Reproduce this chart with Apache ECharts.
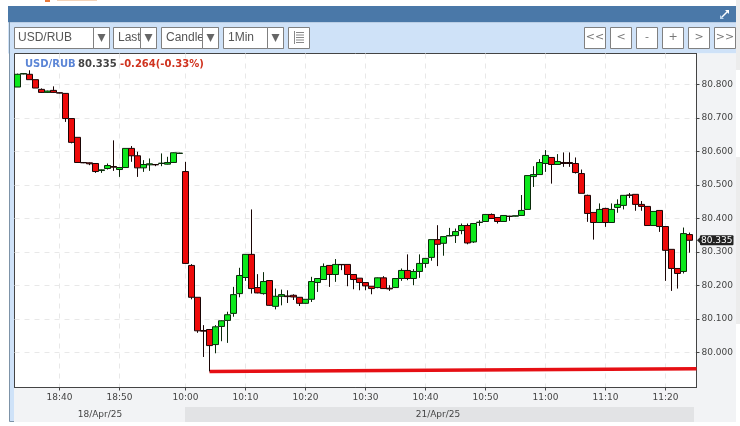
<!DOCTYPE html>
<html><head><meta charset="utf-8">
<style>html,body{margin:0;padding:0;background:#fff;overflow:hidden}#c{width:740px;height:426px}</style>
<script src="https://cdn.jsdelivr.net/npm/echarts@6/dist/echarts.min.js"></script>
</head><body><div id="c"></div>
<script>
const opens=[80.792,80.831,80.830,80.814,80.785,80.776,80.782,80.775,80.773,80.698,80.642,80.567,80.566,80.564,80.543,80.549,80.555,80.546,80.552,80.609,80.587,80.551,80.560,80.561,80.564,80.562,80.567,80.594,
80.540,80.260,80.165,80.066,80.069,80.024,80.078,80.096,80.117,80.176,80.224,80.293,80.194,80.176,80.215,80.138,80.168,80.169,80.171,80.165,80.147,80.159,80.209,80.218,80.260,80.233,80.263,80.263,80.233,80.222,80.209,80.198,80.194,80.223,80.192,80.194,80.221,80.245,80.221,80.242,80.266,80.284,80.337,80.326,80.348,80.349,80.364,80.379,80.330,80.388,80.391,80.412,80.403,80.391,80.407,80.407,80.409,80.427,80.525,80.531,80.564,80.582,80.561,80.567,80.567,80.564,80.534,80.469,80.418,80.388,80.430,80.388,80.433,80.439,80.470,80.472,80.442,80.436,80.379,80.424,80.376,80.308,80.251,80.242,80.352];
const closes=[80.830,80.832,80.814,80.789,80.776,80.780,80.776,80.774,80.698,80.627,80.567,80.566,80.563,80.540,80.545,80.558,80.553,80.552,80.609,80.587,80.551,80.561,80.563,80.560,80.565,80.567,80.596,80.595,
80.266,80.165,80.065,80.064,80.021,80.077,80.095,80.113,80.173,80.230,80.293,80.191,80.178,80.212,80.141,80.168,80.173,80.167,80.166,80.147,80.159,80.212,80.221,80.257,80.233,80.263,80.262,80.233,80.218,80.209,80.199,80.191,80.223,80.191,80.190,80.221,80.245,80.221,80.242,80.266,80.281,80.337,80.323,80.346,80.349,80.361,80.379,80.327,80.385,80.389,80.412,80.400,80.391,80.409,80.406,80.408,80.424,80.528,80.531,80.567,80.588,80.561,80.570,80.564,80.564,80.537,80.475,80.415,80.388,80.427,80.388,80.427,80.442,80.469,80.469,80.442,80.436,80.379,80.421,80.376,80.305,80.251,80.236,80.355,80.335];
const lows=[80.792,80.830,80.814,80.789,80.775,80.775,80.775,80.773,80.688,80.624,80.567,80.565,80.559,80.536,80.536,80.546,80.542,80.524,80.552,80.569,80.524,80.539,80.542,80.556,80.556,80.561,80.566,80.593,
80.266,80.159,80.059,79.987,79.944,79.998,80.034,80.029,80.107,80.165,80.214,80.176,80.177,80.173,80.140,80.129,80.141,80.148,80.157,80.139,80.146,80.151,80.181,80.218,80.196,80.211,80.246,80.198,80.189,80.186,80.186,80.174,80.192,80.190,80.184,80.193,80.214,80.216,80.201,80.223,80.253,80.274,80.258,80.289,80.347,80.327,80.353,80.323,80.327,80.378,80.391,80.400,80.385,80.391,80.393,80.406,80.409,80.427,80.494,80.531,80.539,80.504,80.560,80.554,80.554,80.534,80.475,80.390,80.337,80.388,80.375,80.388,80.417,80.427,80.461,80.423,80.423,80.379,80.379,80.360,80.214,80.184,80.191,80.236,80.298];
const highs=[80.832,80.833,80.842,80.814,80.788,80.781,80.794,80.776,80.774,80.698,80.642,80.568,80.567,80.565,80.546,80.564,80.633,80.553,80.609,80.616,80.599,80.574,80.579,80.562,80.594,80.584,80.597,80.596,
80.569,80.264,80.165,80.082,80.070,80.082,80.096,80.122,80.196,80.253,80.293,80.427,80.234,80.240,80.216,80.191,80.188,80.186,80.174,80.165,80.159,80.226,80.221,80.266,80.260,80.279,80.264,80.263,80.233,80.222,80.209,80.198,80.224,80.228,80.201,80.221,80.251,80.293,80.249,80.293,80.281,80.337,80.380,80.346,80.372,80.370,80.385,80.385,80.386,80.395,80.412,80.415,80.403,80.409,80.408,80.408,80.470,80.528,80.556,80.577,80.604,80.582,80.592,80.597,80.597,80.582,80.546,80.471,80.418,80.445,80.432,80.445,80.457,80.469,80.476,80.472,80.452,80.437,80.421,80.424,80.376,80.308,80.251,80.373,80.358];
const xTickIndex=[7,17,28,38,48,58,68,78,88,98,108];
const xTickLabels=['18:40','18:50','10:00','10:10','10:20','10:30','10:40','10:50','11:00','11:10','11:20'];
const yTicks=[80.0,80.1,80.2,80.3,80.4,80.5,80.6,80.7,80.8];
const trendX=[32,113.17];
const trendY=[79.944,79.952];
const lastPrice=80.335;
const headerParts=['USD/RUB','80.335','-0.264(-0.33%)'];
const dates=['18/Apr/25','21/Apr/25'];

const chart=echarts.init(document.getElementById('c'),null,{renderer:'canvas'});
const xMin=-0.5,xMax=113.17;
const GR='#808080';
function rect(x,y,w,h,fill,stroke,z){return {type:'rect',z:z==null?-1:z,silent:true,shape:{x,y,width:w,height:h},style:{fill:fill,stroke:stroke||null,lineWidth:stroke?1:0}};}
function txt(x,y,t,font,fill,align){return {type:'text',z:5,silent:true,x,y,style:{text:t,font:font,fill:fill,textAlign:align||'left',textVerticalAlign:'middle'}};}
function tri(cx,cy){return {type:'polygon',z:8,silent:true,shape:{points:[[cx-4,cy-4],[cx+4,cy-4],[cx,cy+4]]},style:{fill:'#666'}};}
function line(x1,y1,x2,y2,c,w,z){return {type:'line',z:z||5,silent:true,shape:{x1,y1,x2,y2},style:{stroke:c,lineWidth:w||1}};}
const g=[];
g.push(rect(45,0,5,2,'#e8793a'));g.push(rect(57,0,40,1,'#f3d3b8'));
g.push(rect(736,0,4,70,'#ececec'));g.push(rect(736,157,4,167,'#ececec'));
g.push(rect(8,6,728,16.5,'#4a78a8'));
g.push(rect(8,22.5,728,31,'#cfe2f8'));
g.push(rect(9,53,5,368,'#cfe2f8'));
g.push(line(9.5,22,9.5,421.5,'#7d93a8'));
g.push(line(9.5,421.5,14,421.5,'#7d93a8'));
g.push(rect(697,53.5,39,353,'#f2f3f5'));
g.push(rect(14,388,722,19,'#f2f3f5'));
g.push(rect(14,407,171,15,'#f2f3f5'));
g.push(rect(185,407,509,15,'#e2e3e5'));
g.push(rect(694,407,42,15,'#f2f3f5'));
function combo(x,w,div,label,tx){
 g.push(rect(x,27.5,w,21,'#fff',GR,1));
 g.push({type:'text',z:5,silent:true,x:tx,y:38,style:{text:label,font:'12px "Liberation Sans"',fill:'#555',textVerticalAlign:'middle'}});
 g.push(rect(div,27.5,x+w-div,21,'#fff',GR,7));
 g.push(tri((div+x+w)/2,38));
}
combo(14.5,95,93.5,'USD/RUB',18);
combo(113.5,43,140.5,'Last',118);
combo(161.5,57,202.5,'Candle',166);
combo(223.5,60,267.5,'1Min',228);
g.push(rect(288.5,27.5,21,21,'#fff',GR,1));
[32.5,35,37.5,40,42.5].forEach((y,i)=>g.push(line(296,y,304,y,'#888')));
g.push(line(294.5,31,294.5,44,'#888'));
const btns=[[584.5,'<<'],[610.5,'<'],[636.5,'-'],[662.5,'+'],[688.5,'>'],[714.5,'>>']];
btns.forEach(b=>{g.push(rect(b[0],27.5,21,21,'#fff',GR,1));g.push(txt(b[0]+10.5,37.5,b[1],'11px "DejaVu Sans"','#777','center'));});
g.push(line(722,17,728,11,'#fff',1.5));
g.push({type:'polygon',z:5,silent:true,shape:{points:[[725,10],[729,10],[729,14]]},style:{fill:'#fff'}});
g.push({type:'polygon',z:5,silent:true,shape:{points:[[720,15],[720,19],[724,19]]},style:{fill:'#bcd6ee'}});
g.push(txt(25,64.5,headerParts[0],'bold 10px "DejaVu Sans"','#5b85d6'));
g.push(txt(78,64.5,headerParts[1],'bold 10px "DejaVu Sans"','#444'));
g.push(txt(120,64.5,headerParts[2],'bold 10px "DejaVu Sans"','#d0331f'));
g.push(txt(100,415,dates[0],'9px "DejaVu Sans"','#444','center'));
g.push(txt(438,415,dates[1],'9px "DejaVu Sans"','#444','center'));

const candleData=opens.map((o,i)=>[i,o,closes[i],lows[i],highs[i]]);
chart.setOption({
 animation:false,
 backgroundColor:'#fff',
 graphic:{elements:g},
 grid:{left:14.5,top:53.5,width:682,height:334,show:true,backgroundColor:'#fff',borderColor:'#444',borderWidth:1,containLabel:false},
 xAxis:{type:'value',min:xMin,max:xMax,
  axisLine:{show:true,lineStyle:{color:'#444'}},
  axisTick:{show:true,length:3,customValues:xTickIndex,lineStyle:{color:'#444'}},
  axisLabel:{customValues:xTickIndex,margin:6,color:'#444',fontFamily:'DejaVu Sans',fontSize:9,
    formatter:v=>xTickLabels[xTickIndex.indexOf(v)]||''},
  splitLine:{show:true,lineStyle:{type:[5,5],color:'#e8e8e8'}}},
 yAxis:{type:'value',position:'right',min:79.896,max:80.892,
  axisLine:{show:true,onZero:false,lineStyle:{color:'#444'}},
  axisTick:{show:true,length:3,customValues:yTicks,lineStyle:{color:'#444'}},
  axisLabel:{customValues:yTicks,margin:5,color:'#444',fontFamily:'DejaVu Sans',fontSize:9,formatter:v=>v.toFixed(3)},
  splitLine:{show:true,lineStyle:{type:[5,5],color:'#e8e8e8'}}},
 series:[
  {type:'line',data:trendX.map((x,i)=>[x,trendY[i]]),symbol:'none',z:1,lineStyle:{color:'#e60f14',width:3.5},silent:true},
  {type:'candlestick',barWidth:6,encode:{x:0,y:[1,2,3,4]},data:candleData,z:3,
   itemStyle:{color:'#0ce81c',color0:'#ee0a0a',borderColor:'#0a2a0a',borderColor0:'#1a0505',borderWidth:1},
   markPoint:{silent:true,animation:false,data:[
    {coord:[xMax,lastPrice],symbol:'triangle',symbolRotate:90,symbolSize:[10,5],symbolOffset:[3,0],itemStyle:{color:'#222'},
     label:{show:true,position:'right',distance:0,offset:[-2,0],formatter:()=>lastPrice.toFixed(3),color:'#fff',fontFamily:'DejaVu Sans',fontSize:9,fontWeight:'normal',backgroundColor:'#222',borderRadius:1,padding:[1,1,0,1]}}
   ]}}
 ]
});
</script></body></html>
